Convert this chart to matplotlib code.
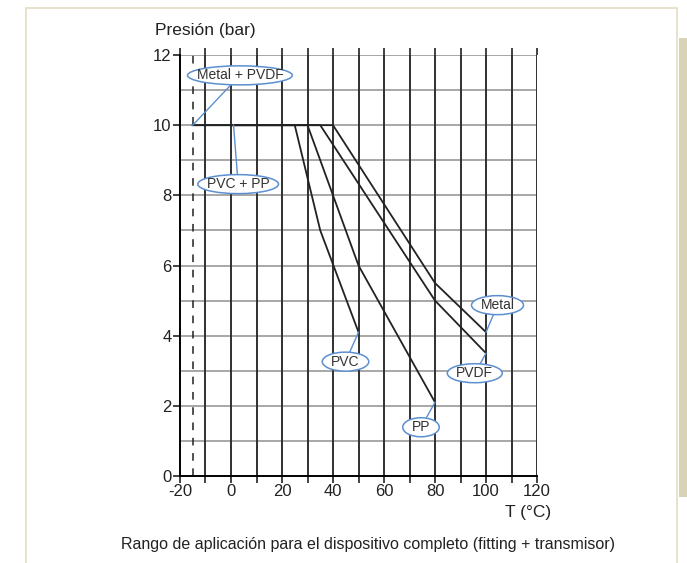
import numpy as np
import matplotlib.pyplot as plt
from matplotlib.patches import Rectangle, Ellipse

# curves: temperature (°C) vs pressure (bar)
metalT = [-15, 40, 80, 100]
metalP = [10, 10, 5.5, 4.1]
pvdfT = [-15, 35, 80, 100]
pvdfP = [10, 10, 5.0, 3.5]
ppT = [0, 30, 50, 80]
ppP = [10, 10, 6.0, 2.1]
pvcT = [0, 25, 35, 50]
pvcP = [10, 10, 7.0, 4.1]

# labels: text, point of leader, label centre
labelTexts = ["Metal + PVDF", "PVC + PP", "Metal", "PVDF", "PVC", "PP"]
labelFrom = [(-15, 10), (1, 10), (100, 4.1), (100, 3.5), (50, 4.1), (80, 2.1)]
labelAt = [(3.5, 11.42), (2.8, 8.32), (104.5, 4.87), (95.6, 2.93), (44.9, 3.26), (74.5, 1.39)]

dashT = -15
caption = "Rango de aplicación para el dispositivo completo (fitting + transmisor)"

plt.rcParams['font.family'] = ['Liberation Sans', 'DejaVu Sans']
plt.rcParams['axes.unicode_minus'] = False
blue = '#5b8fd0'

fig = plt.figure(figsize=(6.87, 5.63), dpi=100)
ax = fig.add_axes([0.262, 0.1545, 0.5197, 0.7478])

# page frame and side band
fig.patches.append(Rectangle((26/687, -0.01), (677-26)/687, 1 - 8/563 + 0.01, transform=fig.transFigure,
                             fill=False, ec='#e2ddc4', lw=1.2))
fig.patches.append(Rectangle((679/687, (563-497)/563), 10/687, (497-38)/563, transform=fig.transFigure,
                             fc='#d9d3b5', ec='none'))

ax.set_xlim(-20, 120)
ax.set_ylim(0, 12)
ax.set_xticks(np.arange(-20, 121, 20))
ax.set_xticks(np.arange(-10, 121, 20), minor=True)
ax.set_yticks(np.arange(0, 13, 2))
ax.set_yticks(np.arange(1, 12, 2), minor=True)

for y in range(1, 13):
    ax.axhline(y, color='#a0a0a0', lw=1.3, zorder=1)
for x in range(-10, 121, 10):
    ax.axvline(x, color='#303030', lw=1.4, zorder=1)
ax.axvline(dashT, color='#202020', lw=1.1, ls=(0, (5, 5)), zorder=1)

for s in ['top', 'right']:
    ax.spines[s].set_visible(False)
ax.spines['left'].set_linewidth(1.4)
ax.spines['bottom'].set_linewidth(1.4)
ax.tick_params(axis='both', which='both', direction='out', length=5, width=1.2, labelsize=12,
               colors='#222222', pad=1)
ax.tick_params(axis='y', which='minor', length=0)
ax.tick_params(axis='x', which='both', top=True, length=5)

for T, P in [(metalT, metalP), (pvdfT, pvdfP), (ppT, ppP), (pvcT, pvcP)]:
    ax.plot(T, P, color='#222222', lw=1.3, zorder=3)

# labels in ellipses sized from the text
fig.canvas.draw()
r = fig.canvas.get_renderer()
for txt, p0, p1 in zip(labelTexts, labelFrom, labelAt):
    ax.plot([p0[0], p1[0]], [p0[1], p1[1]], color=blue, lw=1.0, zorder=4)
    t = ax.text(p1[0], p1[1], txt, ha='center', va='center', fontsize=10, color='#333333', zorder=6)
    bb = t.get_window_extent(r)
    cx, cy = ax.transData.transform(p1)
    x0, y0 = ax.transData.inverted().transform((cx - bb.width / 2 - 9, cy - 9.5))
    x1, y1 = ax.transData.inverted().transform((cx + bb.width / 2 + 9, cy + 9.5))
    ax.add_patch(Ellipse(p1, x1 - x0, y1 - y0, fc='white', ec=blue, lw=1.1, zorder=5, clip_on=False))

fig.text(155/687, 1 - 30/563, "Presión (bar)", fontsize=12.5, color='#222222', ha='left', va='center')
fig.text(551/687, 1 - 512/563, "T (°C)", fontsize=12.5, color='#222222', ha='right', va='center')
fig.text(368/687, 1 - 545/563, caption, fontsize=11.5, color='#222222', ha='center', va='center')

fig.savefig('out.png', dpi=100)
